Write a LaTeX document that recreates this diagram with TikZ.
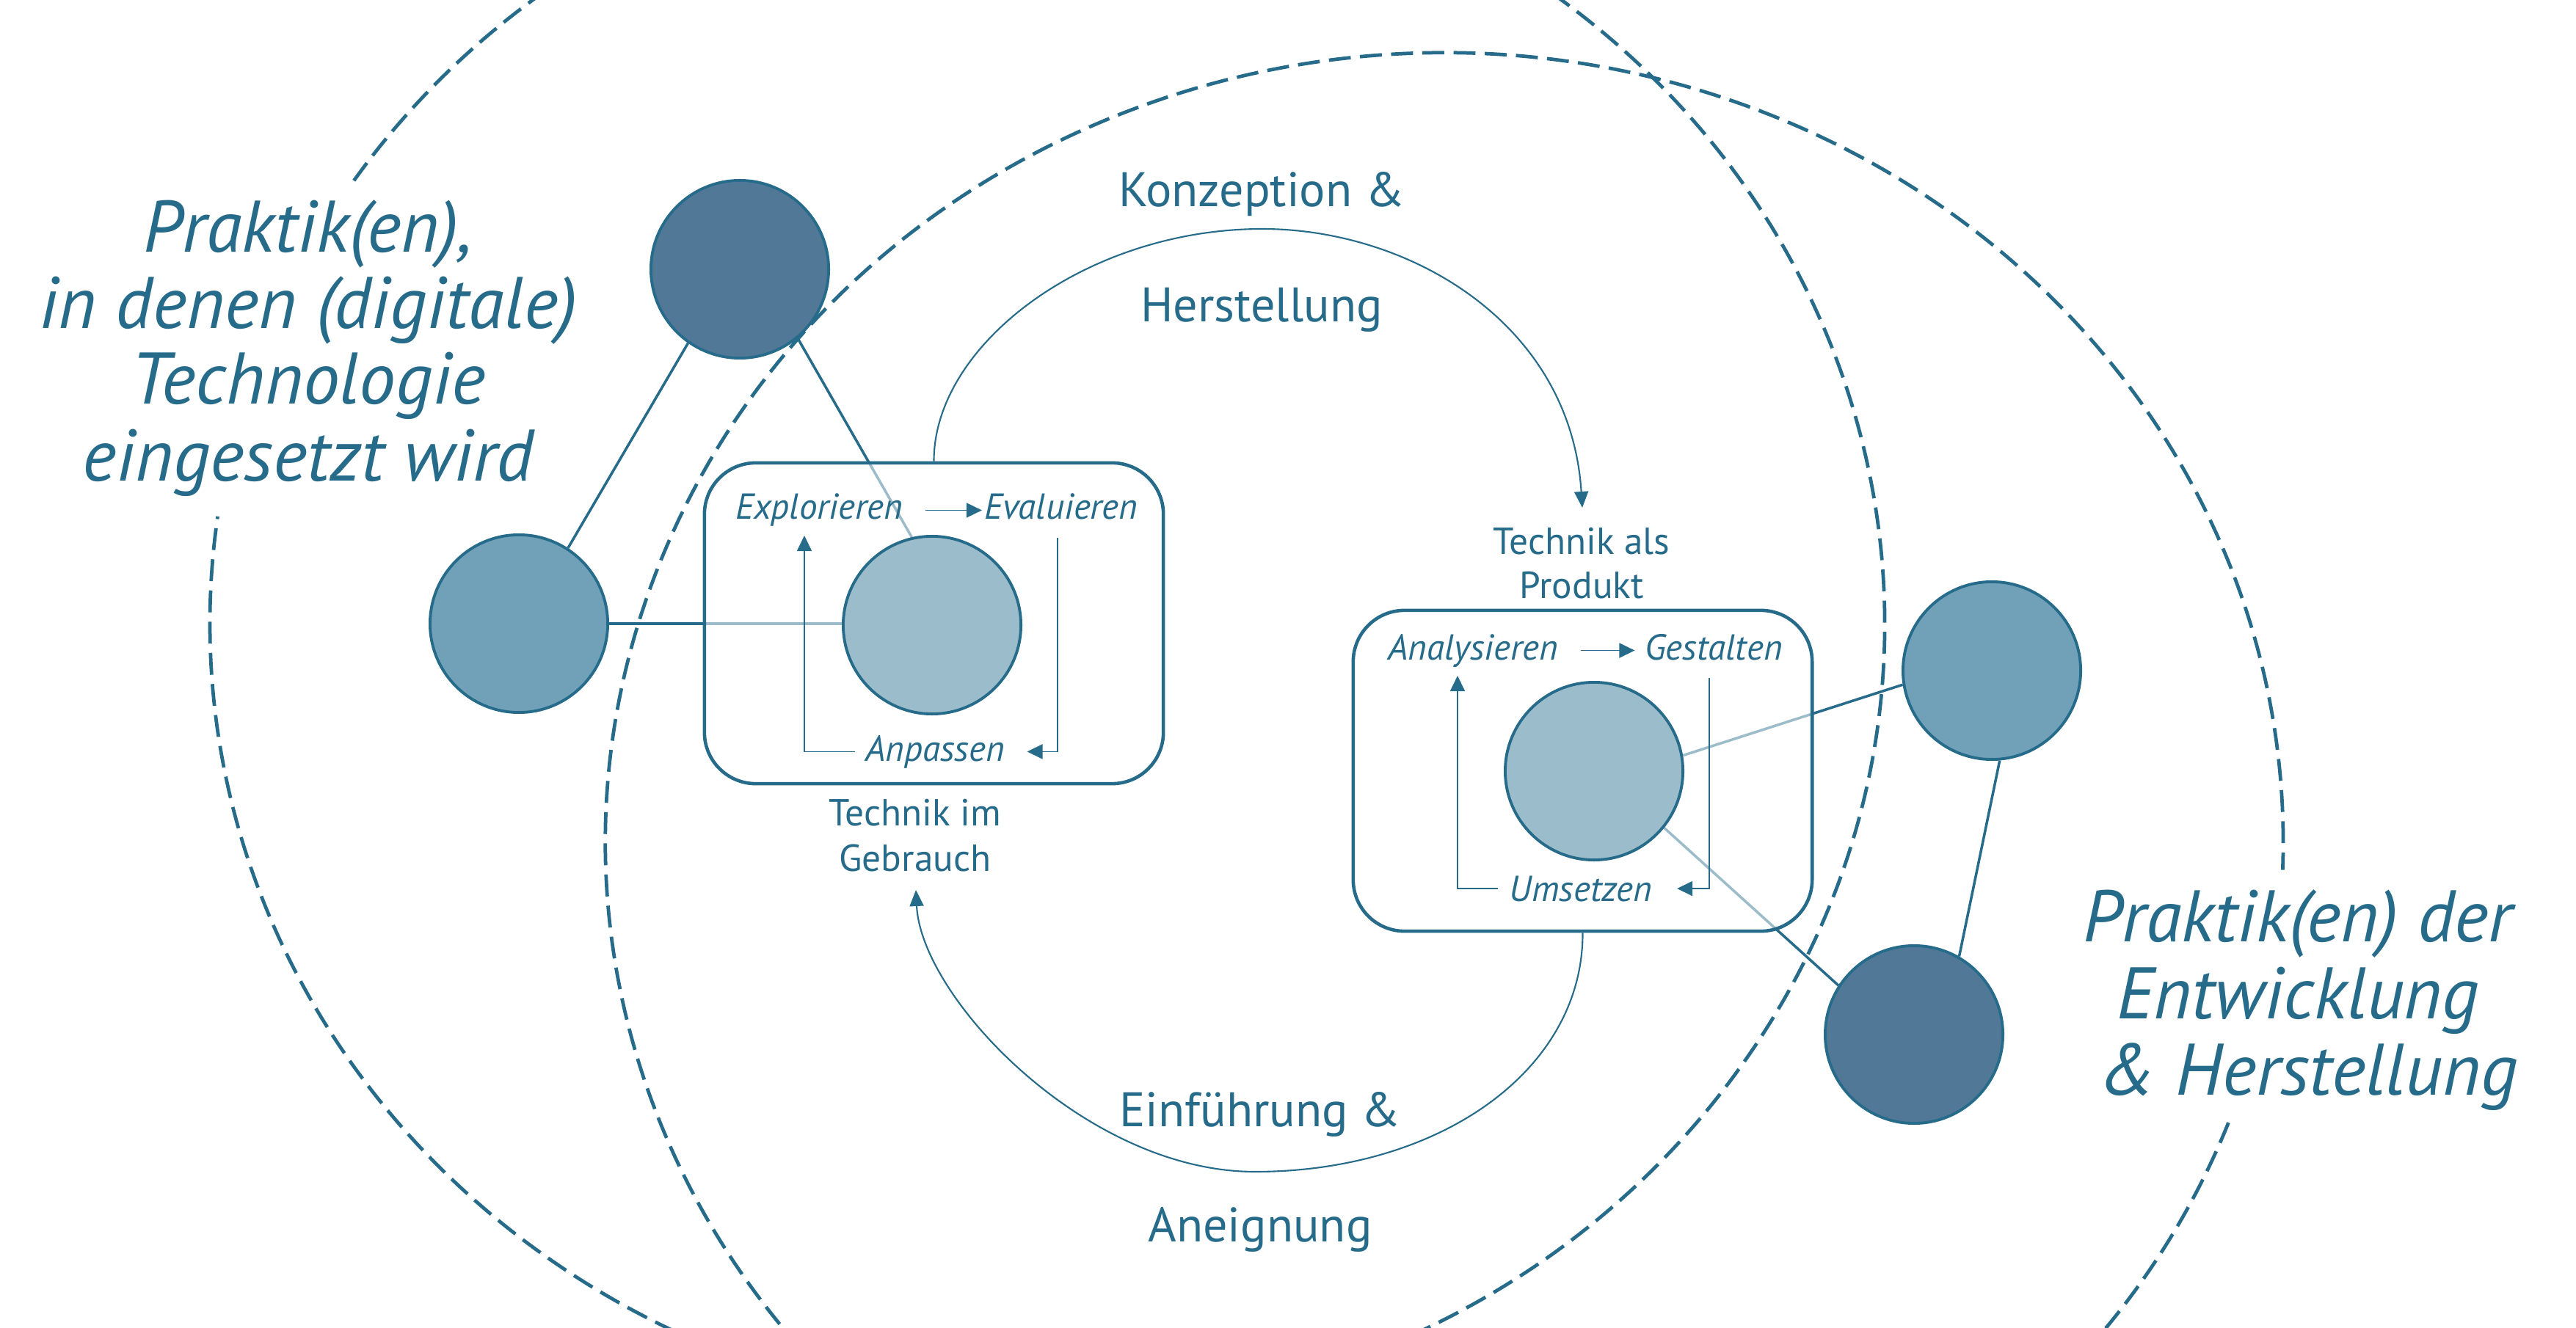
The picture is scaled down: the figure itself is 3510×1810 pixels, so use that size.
\documentclass[tikz,border=0pt]{standalone}
\usepackage{fontspec}
\setmainfont{PT Sans}
\usetikzlibrary{arrows.meta}
\definecolor{ink}{RGB}{38,107,138}
\definecolor{cdark}{RGB}{81,121,151}
\definecolor{cmed}{RGB}{112,161,185}
\definecolor{clight}{RGB}{155,189,203}
\pgfdeclarelayer{rings}
\pgfdeclarelayer{links}
\pgfdeclarelayer{frames}
\pgfsetlayers{rings,links,frames,main}
\begin{document}
\begin{tikzpicture}[x=0.01cm,y=-0.01cm,
  dashring/.style={draw=ink, line width=1.35pt, dash pattern=on 8.5pt off 3.6pt},
  conn/.style={draw=ink, line width=1pt},
  stagebox/.style={draw=ink, line width=1.3pt, fill=white, fill opacity=0.55, draw opacity=1, rounded corners=0.7cm, minimum width=6.25cm, minimum height=4.37cm, inner sep=0},
  disc/.style={circle, draw=ink, line width=1.1pt, minimum size=2.42cm, inner sep=0},
  looparr/.style={draw=ink, line width=0.5pt, -{Triangle[length=0.21cm, width=0.2cm]}},
  flowarr/.style={draw=ink, line width=0.6pt, -{Triangle[length=0.22cm, width=0.19cm]}},
  steplabel/.style={text=ink, font=\fontsize{14}{16}\itshape, anchor=base, inner sep=0},
  stagelabel/.style={text=ink, font=\fontsize{14.6}{17}\selectfont, anchor=base, inner sep=0},
  flowlabel/.style={text=ink, font=\fontsize{18.8}{22}\selectfont, anchor=base, inner sep=0},
  praxislabel/.style={text=ink, font=\fontsize{28.3}{33}\itshape, anchor=base, inner sep=0}
]
\useasboundingbox (0,0) rectangle (3510,1810);

% dashed rings
\begin{pgfonlayer}{rings}
\draw[dashring] (1427,850) ++(214.1:1141 and 1077) arc[start angle=214.1, end angle=547.8, x radius=1141, y radius=1077];
\draw[dashring] (1968,1148) ++(20.8:1143 and 1076) arc[start angle=20.8, end angle=362, x radius=1143, y radius=1076];
\end{pgfonlayer}

% discs
\node[disc, fill=cdark] (ptop) at (1008,367) {};
\node[disc, fill=cmed] (pleft) at (707,850) {};
\node[disc, fill=clight] (tuse) at (1270,852) {};
\node[disc, fill=clight] (tprod) at (2172,1051) {};
\node[disc, fill=cmed] (pright) at (2714,914) {};
\node[disc, fill=cdark] (pbot) at (2608,1410) {};

% connectors
\begin{pgfonlayer}{links}
\draw[conn] (ptop.-125) -- (pleft.57);
\draw[conn] (ptop.-50) -- (tuse.103);
\draw[conn] (pleft.east) -- (pleft.east -| tuse.west);
\draw[conn] (tprod.10) -- (pright.-171);
\draw[conn] (tprod.-39) -- (pbot.147);
\draw[conn] (pright.-85) -- (pbot.60);
\end{pgfonlayer}

% boxes
\begin{pgfonlayer}{frames}
\node[stagebox] (boxL) at (1272.5,849.5) {};
\node[stagebox] (boxR) at (2156.5,1050.5) {};
\end{pgfonlayer}

% loop in "Technik im Gebrauch"
\node[steplabel] (expl) at (1116,708) {Explorieren};
\node[steplabel] (eval) at (1446,708) {Evaluieren};
\node[steplabel] (anp) at (1274,1037) {Anpassen};
\draw[looparr, shorten <=0.3cm, shorten >=0.03cm] (expl.east) -- (expl.east -| eval.west);
\draw[looparr] ([xshift=-0.05cm,yshift=-0.25cm]eval.base) |- ([xshift=0.3cm]anp.east);
\draw[looparr] ([xshift=-0.13cm]anp.west) -| ([xshift=-0.2cm,yshift=-0.22cm]expl.base);

% loop in "Technik als Produkt"
\node[steplabel] (anal) at (2007,899) {Analysieren};
\node[steplabel] (gest) at (2335,899) {Gestalten};
\node[steplabel] (ums) at (2154,1228) {Umsetzen};
\draw[looparr, shorten <=0.3cm, shorten >=0.13cm] (anal.east) -- (anal.east -| gest.west);
\draw[looparr] ([xshift=-0.06cm,yshift=-0.25cm]gest.base) |- ([xshift=0.33cm]ums.east);
\draw[looparr] ([xshift=-0.15cm]ums.west) -| ([xshift=-0.21cm,yshift=-0.22cm]anal.base);

% stage labels
\node[stagelabel] (tig1) at (1247,1125) {Technik im};
\node[stagelabel] (tig2) at (1247,1187) {Gebrauch};
\node[stagelabel] (tap1) at (2155,755) {Technik als};
\node[stagelabel] (tap2) at (2155,815) {Produkt};

% flow labels
\node[flowlabel] (kh1) at (1719,282) {Konzeption \&};
\node[flowlabel] (kh2) at (1719,439) {Herstellung};
\node[flowlabel] (ea1) at (1717,1535) {Einführung \&};
\node[flowlabel] (ea2) at (1717,1692) {Aneignung};

% flow arrows
\coordinate (toProd) at (2156,692);
\coordinate (toUse) at (1248,1213);
\draw[flowarr] (boxL.north) .. controls (1272,470) and (1480,312) .. (1720,312) .. controls (1920,312) and (2140,440) .. (toProd);
\draw[flowarr] (boxR.south) .. controls (2157,1460) and (1960,1597) .. (1710,1597) .. controls (1480,1597) and (1255,1360) .. (toUse);

% practice labels
\node[praxislabel] (pu1) at (420,344) {Praktik(en),};
\node[praxislabel] (pu2) at (420,448) {in denen (digitale)};
\node[praxislabel] (pu3) at (420,551) {Technologie};
\node[praxislabel] (pu4) at (420,656) {eingesetzt wird};
\node[praxislabel] (pd1) at (3131,1283) {Praktik(en) der};
\node[praxislabel] (pd2) at (3131,1388) {Entwicklung};
\node[praxislabel] (pd3) at (3146,1492) {\& Herstellung};
\end{tikzpicture}
\end{document}
